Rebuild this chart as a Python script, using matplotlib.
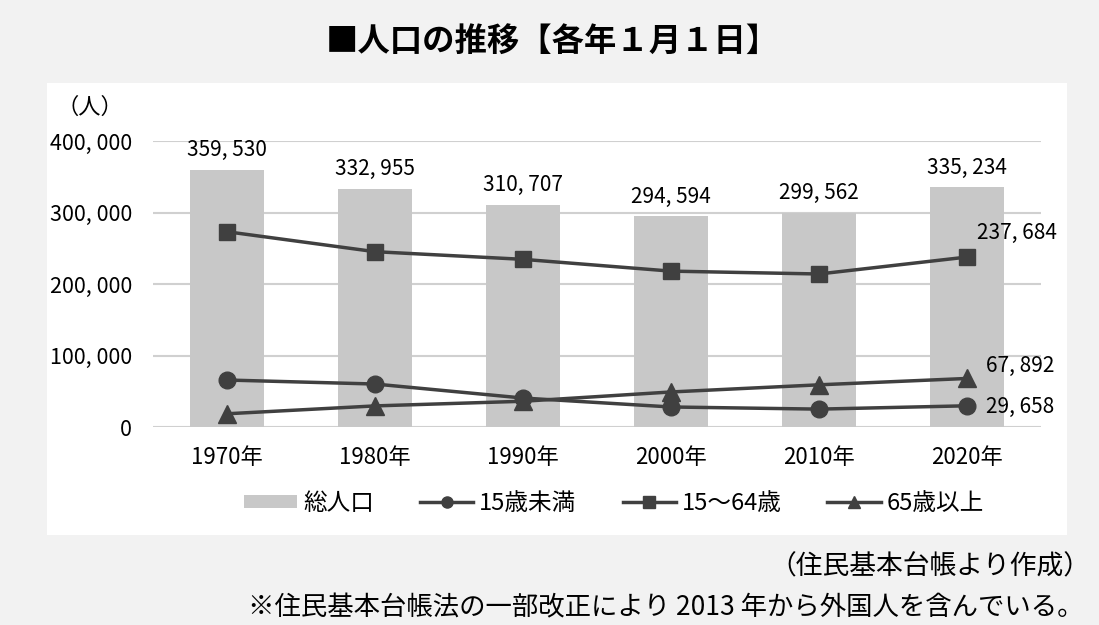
import matplotlib
matplotlib.use("Agg")
import matplotlib.pyplot as plt
from matplotlib.patches import Rectangle
from matplotlib.lines import Line2D

plt.rcParams['font.family'] = ['Noto Sans CJK JP', 'DejaVu Sans']

years = ['1970年', '1980年', '1990年', '2000年', '2010年', '2020年']
total = [359530, 332955, 310707, 294594, 299562, 335234]
age_0_14 = [65700, 60100, 40500, 28000, 25000, 29658]
age_15_64 = [273100, 245200, 234500, 218000, 214000, 237684]
age_65 = [18500, 29500, 36000, 49000, 59000, 67892]
yticks = [0, 100000, 200000, 300000, 400000]

def fmt(v):
    return f"{v:,}".replace(",", ", ")

W, H = 1099, 625
fig = plt.figure(figsize=(W / 100, H / 100), dpi=100)
fig.patch.set_facecolor('#f2f2f2')

# white chart panel
fig.patches.append(Rectangle((47 / W, 1 - 535 / H), (1067 - 47) / W, (535 - 83) / H,
                             transform=fig.transFigure, facecolor='white', edgecolor='none', zorder=-5))

ax = fig.add_axes([153 / W, 1 - 427 / H, (1041 - 153) / W, (427 - 141) / H])
ax.set_facecolor('none')
x = range(len(years))
dark = '#404040'

ax.bar(x, total, width=0.5, color='#c8c8c8', zorder=2)
ax.plot(x, age_0_14, color=dark, lw=2.5, marker='o', ms=12, zorder=3)
ax.plot(x, age_15_64, color=dark, lw=2.5, marker='s', ms=12, zorder=3)
ax.plot(x, age_65, color=dark, lw=2.5, marker='^', ms=13, zorder=3)

for i, v in enumerate(total):
    ax.text(i, v + 12000, fmt(v), ha='center', va='bottom', fontsize=15, zorder=4)
ax.text(5.07, age_15_64[5] + 34000, fmt(age_15_64[5]), ha='left', va='center', fontsize=15)
ax.text(5.13, age_65[5] + 18000, fmt(age_65[5]), ha='left', va='center', fontsize=15)
ax.text(5.13, age_0_14[5] - 1000, fmt(age_0_14[5]), ha='left', va='center', fontsize=15)

ax.set_xlim(-0.5, 5.5)
ax.set_ylim(0, 400000)
ax.set_yticks(yticks)
ax.set_yticklabels([fmt(v) for v in yticks], fontsize=15.5)
ax.set_xticks(list(x))
ax.set_xticklabels(years, fontsize=16)
ax.tick_params(length=0, axis='y', pad=15)
ax.tick_params(length=0, axis='x', pad=14)
ax.grid(axis='y', color='#d0d0d0', lw=1.5, zorder=1)
ax.set_axisbelow(True)
for s in ax.spines.values():
    s.set_visible(False)

fig.text(90 / W, 1 - 107 / H, '（人）', ha='center', va='center', fontsize=16)

fig.text(552 / W, 1 - 41 / H, '■人口の推移【各年１月１日】', ha='center', va='center',
         fontsize=23.3, fontweight='bold')

handles = [
    Rectangle((0, 0), 1, 1, facecolor='#c8c8c8', edgecolor='none'),
    Line2D([], [], color=dark, lw=2.5, marker='o', ms=8),
    Line2D([], [], color=dark, lw=2.5, marker='s', ms=8),
    Line2D([], [], color=dark, lw=2.5, marker='^', ms=8),
]
labels = ['総人口', '15歳未満', '15～64歳', '65歳以上']
fig.legend(handles, labels, loc='center', bbox_to_anchor=(614 / W, 1 - 503 / H), ncol=4,
           frameon=False, fontsize=17, handlelength=2.25, handleheight=0.47,
           handletextpad=0.25, columnspacing=1.95)

fig.text(1090 / W, 1 - 567 / H, '（住民基本台帳より作成）', ha='right', va='center', fontsize=19.3)
fig.text(1083 / W, 1 - 608 / H, '※住民基本台帳法の一部改正により 2013 年から外国人を含んでいる。',
         ha='right', va='center', fontsize=19)

fig.savefig('out.png', dpi=100, facecolor=fig.get_facecolor())
